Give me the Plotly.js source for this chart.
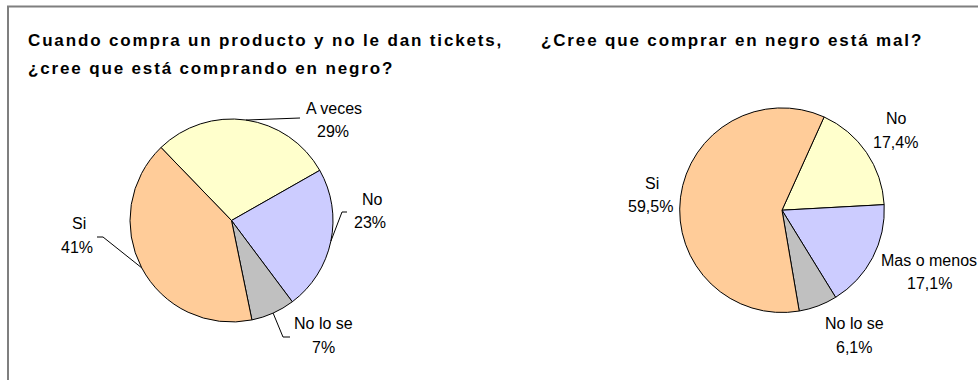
<!DOCTYPE html>
<html>
<head>
<meta charset="utf-8">
<script src="https://cdn.plot.ly/plotly-3.0.1.min.js"></script>
<style>
  html, body { margin: 0; padding: 0; background: #ffffff; }
  #chart { width: 978px; height: 380px; }
  .annotation[data-index="0"] text,
  .annotation[data-index="1"] text,
  .annotation[data-index="2"] text { letter-spacing: 1.85px; }
</style>
</head>
<body>
<div id="chart"></div>
<script>
// ---- data ----
const titleLeft = ['Cuando compra un producto y no le dan tickets,', '¿cree que está comprando en negro?'];
const titleRight = '¿Cree que comprar en negro está mal?';

const q1Labels = ['A veces', 'No', 'No lo se', 'Si'];
const q1Values = [29, 23, 7, 41];
const q1Text = ['29%', '23%', '7%', '41%'];

const q2Labels = ['No', 'Mas o menos', 'No lo se', 'Si'];
const q2Values = [17.4, 17.1, 6.1, 59.5];
const q2Text = ['17,4%', '17,1%', '6,1%', '59,5%'];

// ---- styles / layout ----
const W = 978, H = 380;
const colorMap1 = { 'A veces': '#FFFFCC', 'No': '#CCCCFF', 'No lo se': '#C0C0C0', 'Si': '#FFCC99' };
const colorMap2 = { 'No': '#FFFFCC', 'Mas o menos': '#CCCCFF', 'No lo se': '#C0C0C0', 'Si': '#FFCC99' };

const pie1 = { cx: 231.5, cy: 220.5, r: 101.5, rotation: -44 };
const pie2 = { cx: 782, cy: 210.2, r: 102.3, rotation: 24.3 };

// label positions (pixel centers of name line / value line)
const q1LabelPos = [[334, 108, 333, 131], [372, 199, 370, 222], [323, 323, 323, 347], [79, 224, 77, 247]];
const q2LabelPos = [[896, 119, 895, 143], [929, 260, 929, 283], [854, 323, 854, 347], [652, 183, 650, 206]];
// leader elbow points after the slice edge point (pixels)
const q1Leaders = [[[300, 118]], [[342, 212], [347, 212]], [[283, 337], [290, 337]], [[103, 237], [97, 237]]];

const fx = x => x / W;
const fy = y => 1 - y / H;

function domainOf(p) {
  return { x: [fx(p.cx - p.r), fx(p.cx + p.r)], y: [fy(p.cy + p.r), fy(p.cy - p.r)] };
}

function midAngles(values, rotation) {
  const tot = values.reduce((a, b) => a + b, 0);
  let a = rotation;
  return values.map(v => { const span = v / tot * 360; const m = a + span / 2; a += span; return m; });
}

const traces = [
  {
    type: 'pie', labels: q1Labels, values: q1Values, sort: false, direction: 'clockwise',
    rotation: pie1.rotation, textinfo: 'none', hoverinfo: 'none', domain: domainOf(pie1),
    marker: { colors: q1Labels.map(l => colorMap1[l]), line: { color: '#000000', width: 1 } }
  },
  {
    type: 'pie', labels: q2Labels, values: q2Values, sort: false, direction: 'clockwise',
    rotation: pie2.rotation, textinfo: 'none', hoverinfo: 'none', domain: domainOf(pie2),
    marker: { colors: q2Labels.map(l => colorMap2[l]), line: { color: '#000000', width: 1 } }
  }
];

const titleFont = { family: 'Liberation Sans, Arial, sans-serif', size: 17, color: '#000000' };
const labelFont = { family: 'Liberation Sans, Arial, sans-serif', size: 16, color: '#000000' };

const annotations = [
  { text: '<b>' + titleLeft[0] + '</b>', x: fx(26), y: fy(40) },
  { text: '<b>' + titleLeft[1] + '</b>', x: fx(26), y: fy(68) },
  { text: '<b>' + titleRight + '</b>', x: fx(539), y: fy(40) }
].map(a => Object.assign(a, { xref: 'paper', yref: 'paper', xanchor: 'left', yanchor: 'middle', align: 'left', showarrow: false, font: titleFont }));

function addLabels(labels, texts, pos) {
  labels.forEach((l, i) => {
    const p = pos[i];
    annotations.push({ text: l, x: fx(p[0]), y: fy(p[1]), xref: 'paper', yref: 'paper', xanchor: 'center', yanchor: 'middle', showarrow: false, font: labelFont });
    annotations.push({ text: texts[i], x: fx(p[2]), y: fy(p[3]), xref: 'paper', yref: 'paper', xanchor: 'center', yanchor: 'middle', showarrow: false, font: labelFont });
  });
}
addLabels(q1Labels, q1Text, q1LabelPos);
addLabels(q2Labels, q2Text, q2LabelPos);

const shapes = [
  { type: 'rect', xref: 'paper', yref: 'paper', x0: fx(8), x1: fx(W + 30), y0: fy(H + 30), y1: fy(6.5),
    line: { color: '#7f7f7f', width: 2 }, fillcolor: 'rgba(0,0,0,0)', layer: 'above' }
];

const mids1 = midAngles(q1Values, pie1.rotation);
q1Leaders.forEach((pts, i) => {
  const a = mids1[i] * Math.PI / 180;
  const sx = pie1.cx + pie1.r * Math.sin(a), sy = pie1.cy - pie1.r * Math.cos(a);
  let d = 'M' + fx(sx) + ',' + fy(sy);
  pts.forEach(p => { d += ' L' + fx(p[0]) + ',' + fy(p[1]); });
  shapes.push({ type: 'path', xref: 'paper', yref: 'paper', path: d, line: { color: '#000000', width: 1 } });
});

const layout = {
  width: W, height: H, margin: { l: 0, r: 0, t: 0, b: 0 },
  paper_bgcolor: '#ffffff', plot_bgcolor: '#ffffff', showlegend: false,
  annotations: annotations, shapes: shapes
};

Plotly.newPlot('chart', traces, layout, { displayModeBar: false, staticPlot: true });
</script>
</body>
</html>
